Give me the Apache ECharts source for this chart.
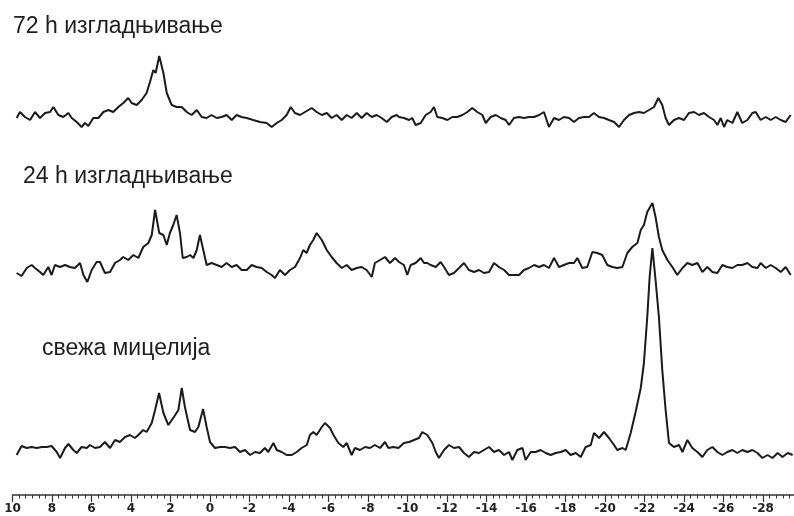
<!DOCTYPE html>
<html>
<head>
<meta charset="utf-8">
<script src="https://cdn.jsdelivr.net/npm/echarts@6/dist/echarts.min.js"></script>
<style>html,body{margin:0;padding:0;background:#fff}#c{width:794px;height:516px}</style>
</head>
<body>
<div id="c"></div>
<script>
// Labels of the three spectra
const traceLabels = ['72 h изгладњивање', '24 h изгладњивање', 'свежа мицелија'];

// Chemical shift axis (ppm), tick every 2 ppm
const axisMin = -30, axisMax = 10, axisStep = 2;

// 72 h starvation: [ppm, intensity]
const starved72h = [
[9.79,0],[9.62,6],[9.37,1],[9.11,-2],[8.86,6],[8.61,0],[8.35,5],[8.10,6],[7.93,11],[7.68,3],[7.43,1],[7.17,5],[7.00,0],[6.75,-4],[6.50,-9],[6.33,-5],[6.16,-8],[5.91,0],[5.65,0],[5.40,6],[5.15,8],[4.90,6],[4.64,11],[4.39,15],[4.14,20],[3.97,15],[3.71,13],[3.46,18],[3.21,25],[3.04,36],[2.87,48],[2.75,45],[2.57,62],[2.36,45],[2.19,25],[1.94,13],[1.69,11],[1.43,11],[1.18,6],[0.93,3],[0.67,8],[0.42,1],[0.17,0],[-0.08,3],[-0.34,0],[-0.59,1],[-0.84,3],[-1.10,-2],[-1.35,3],[-1.60,1],[-1.86,0],[-2.19,-2],[-2.53,-4],[-2.87,-5],[-3.12,-9],[-3.38,-5],[-3.63,-2],[-3.88,3],[-4.09,11],[-4.30,5],[-4.56,3],[-4.81,6],[-5.15,10],[-5.40,6],[-5.66,3],[-5.91,5],[-6.16,0],[-6.41,3],[-6.67,-2],[-6.92,3],[-7.17,0],[-7.43,5],[-7.68,0],[-7.93,5],[-8.19,1],[-8.44,3],[-8.69,0],[-8.95,-4],[-9.20,1],[-9.45,3],
[-9.57,1],[-9.82,0],[-10.08,-2],[-10.24,0],[-10.41,-7],[-10.67,-5],[-10.92,3],[-11.17,6],[-11.34,11],[-11.51,1],[-11.76,0],[-12.02,-2],[-12.27,1],[-12.52,1],[-12.78,3],[-13.03,6],[-13.28,10],[-13.53,6],[-13.79,3],[-13.96,-5],[-14.21,1],[-14.47,3],[-14.72,0],[-14.97,-2],[-15.14,-7],[-15.39,0],[-15.65,1],[-15.90,0],[-16.15,1],[-16.41,1],[-16.66,3],[-16.91,6],[-17.16,-9],[-17.42,0],[-17.67,-2],[-17.92,1],[-18.18,0],[-18.43,-4],[-18.68,0],[-18.94,1],[-19.19,1],[-19.44,5],[-19.70,1],[-19.95,0],[-20.20,-2],[-20.46,-4],[-20.71,-9],[-20.96,-2],[-21.22,3],[-21.47,5],[-21.72,6],[-21.97,5],[-22.23,8],[-22.48,11],[-22.70,20],[-22.90,13],[-23.07,0],[-23.24,-7],[-23.49,-2],[-23.75,0],[-24.00,-2],[-24.25,5],[-24.51,6],[-24.76,3],[-25.01,5],[-25.27,1],[-25.52,-2],[-25.69,-7],[-25.86,0],[-26.03,-9],[-26.19,-2],[-26.45,-5],[-26.70,6],[-26.95,-5],[-27.21,-2],[-27.46,5],[-27.63,6],[-27.88,-2],[-28.14,1],[-28.39,-2],[-28.64,1],[-28.90,-2],[-29.15,-4],[-29.40,3]
];

// 24 h starvation
const starved24h = [
[9.79,-5],[9.54,-8],[9.28,0],[9.03,3],[8.86,0],[8.61,-4],[8.44,-7],[8.19,1],[8.02,-7],[7.85,3],[7.59,1],[7.34,3],[7.09,1],[6.84,0],[6.58,5],[6.41,-7],[6.21,-14],[5.99,-2],[5.74,6],[5.57,6],[5.32,-5],[5.06,-4],[4.81,5],[4.56,8],[4.39,11],[4.14,8],[3.88,13],[3.63,10],[3.38,21],[3.12,25],[2.95,33],[2.78,58],[2.57,35],[2.36,33],[2.19,23],[2.03,35],[1.86,43],[1.69,53],[1.52,35],[1.38,10],[1.18,11],[1.01,13],[0.84,10],[0.67,18],[0.51,33],[0.34,18],[0.17,3],[-0.08,5],[-0.34,3],[-0.59,1],[-0.84,5],[-1.10,1],[-1.35,3],[-1.60,-2],[-1.86,-2],[-2.11,3],[-2.36,1],[-2.62,0],[-2.87,-4],[-3.12,-7],[-3.29,-10],[-3.54,-2],[-3.80,-7],[-4.05,-2],[-4.30,1],[-4.56,10],[-4.72,18],[-4.89,15],[-5.06,23],[-5.23,28],[-5.40,35],[-5.66,28],[-5.91,18],[-6.16,11],[-6.41,5],[-6.67,0],[-6.92,3],[-7.17,-2],[-7.43,0],[-7.68,1],[-7.93,-2],[-8.19,-9],[-8.35,5],[-8.61,8],[-8.86,11],[-9.11,5],[-9.37,10],
[-9.57,6],[-9.82,3],[-9.99,-7],[-10.16,3],[-10.41,5],[-10.67,10],[-10.84,5],[-11.00,5],[-11.17,3],[-11.43,1],[-11.68,6],[-11.85,1],[-12.10,-7],[-12.35,-5],[-12.61,0],[-12.86,5],[-13.11,-2],[-13.37,-4],[-13.62,-2],[-13.87,-5],[-14.13,-4],[-14.38,5],[-14.63,1],[-14.89,-2],[-15.14,-7],[-15.39,-7],[-15.65,-7],[-15.90,-2],[-16.15,0],[-16.41,3],[-16.66,1],[-16.91,3],[-17.16,0],[-17.42,10],[-17.67,1],[-17.92,3],[-18.18,5],[-18.43,5],[-18.60,10],[-18.85,0],[-19.10,1],[-19.36,16],[-19.61,15],[-19.86,13],[-20.12,3],[-20.37,1],[-20.62,0],[-20.88,1],[-21.13,15],[-21.38,21],[-21.64,25],[-21.81,38],[-21.97,43],[-22.14,56],[-22.40,65],[-22.56,51],[-22.73,31],[-22.90,18],[-23.16,8],[-23.41,1],[-23.66,-7],[-23.92,0],[-24.17,5],[-24.42,3],[-24.68,5],[-24.93,-4],[-25.18,1],[-25.44,-4],[-25.69,-5],[-25.94,3],[-26.19,1],[-26.45,0],[-26.70,3],[-26.95,3],[-27.21,5],[-27.46,1],[-27.72,0],[-27.88,5],[-28.14,0],[-28.39,3],[-28.64,0],[-28.90,-4],[-29.15,1],[-29.40,-7]
];

// fresh mycelium
const freshMycelium = [
[9.79,-7],[9.54,2],[9.28,0],[9.03,1],[8.77,0],[8.52,1],[8.27,1],[8.02,2],[7.76,-4],[7.59,-10],[7.34,0],[7.17,4],[6.92,-2],[6.75,-5],[6.50,1],[6.24,0],[6.08,3],[5.82,0],[5.57,1],[5.32,6],[5.06,0],[4.81,8],[4.56,6],[4.30,11],[4.05,13],[3.80,10],[3.63,13],[3.38,18],[3.21,16],[2.95,25],[2.78,38],[2.58,55],[2.36,35],[2.11,23],[1.86,30],[1.60,38],[1.43,60],[1.27,41],[1.01,18],[0.76,16],[0.59,21],[0.35,39],[0.17,21],[0.00,6],[-0.25,0],[-0.51,1],[-0.76,1],[-1.01,0],[-1.27,1],[-1.52,-4],[-1.77,-2],[-2.03,-7],[-2.28,-4],[-2.53,-5],[-2.78,0],[-2.95,-4],[-3.21,5],[-3.38,-2],[-3.63,-4],[-3.88,-7],[-4.14,-7],[-4.39,-4],[-4.64,0],[-4.90,3],[-5.06,13],[-5.23,16],[-5.40,13],[-5.66,21],[-5.82,25],[-6.08,20],[-6.25,13],[-6.50,5],[-6.75,1],[-6.92,5],[-7.17,-7],[-7.34,0],[-7.59,-2],[-7.85,1],[-8.10,0],[-8.35,3],[-8.61,0],[-8.86,6],[-9.03,0],[-9.28,1],[-9.54,0],
[-9.82,5],[-10.08,6],[-10.33,8],[-10.58,10],[-10.75,16],[-11.00,13],[-11.26,5],[-11.43,-4],[-11.59,-10],[-11.85,-2],[-12.10,3],[-12.35,0],[-12.61,1],[-12.86,-5],[-13.11,-9],[-13.37,-4],[-13.62,-5],[-13.87,-2],[-14.13,1],[-14.38,-4],[-14.63,-2],[-14.89,-7],[-15.14,-4],[-15.31,-12],[-15.56,-2],[-15.82,0],[-15.98,-12],[-16.24,-4],[-16.49,-4],[-16.74,-2],[-17.00,-5],[-17.25,-7],[-17.50,-5],[-17.76,-4],[-18.01,-2],[-18.26,-7],[-18.52,-5],[-18.77,-9],[-19.02,1],[-19.28,3],[-19.44,15],[-19.70,10],[-19.95,16],[-20.20,10],[-20.46,3],[-20.62,-2],[-20.88,0],[-21.05,-2],[-21.30,15],[-21.55,36],[-21.81,60],[-21.97,85],[-22.14,131],[-22.26,171],[-22.40,200],[-22.56,168],[-22.73,131],[-22.90,78],[-23.07,38],[-23.24,5],[-23.49,1],[-23.75,3],[-23.92,-4],[-24.17,8],[-24.42,0],[-24.68,-4],[-24.93,-9],[-25.18,-2],[-25.44,1],[-25.69,-4],[-25.94,-7],[-26.19,-4],[-26.45,-2],[-26.70,-5],[-26.95,-2],[-27.21,-4],[-27.46,-2],[-27.72,-5],[-27.97,-10],[-28.23,-7],[-28.48,-10],[-28.74,-5],[-28.99,-9],[-29.25,-5],[-29.50,-7]
];

// vertical stacking offsets of the three spectra (in plot units)
const offsets = [377, 227, 47];
const traces = [starved72h, starved24h, freshMycelium];

const chart = echarts.init(document.getElementById('c'), null, {renderer: 'canvas'});
const lineColor = '#1b1b1b';

const series = traces.map((t, i) => ({
  type: 'line',
  data: t.map(p => [p[0], p[1] + offsets[i]]),
  showSymbol: false,
  symbol: 'none',
  clip: false,
  lineStyle: {color: lineColor, width: 2},
  animation: false
}));

const labelPos = [[13, 27], [23, 177], [42, 349]];

chart.setOption({
  backgroundColor: '#ffffff',
  animation: false,
  grid: {left: 12.5, width: 790, top: 0, height: 495, containLabel: false, outerBoundsMode: 'none'},
  xAxis: {
    type: 'value',
    inverse: true,
    min: axisMin,
    max: axisMax,
    interval: axisStep,
    splitLine: {show: false},
    axisLine: {show: true, onZero: false, lineStyle: {color: '#333', width: 1.5}},
    axisTick: {show: true, length: 7, lineStyle: {color: '#333', width: 1.2}},
    minorTick: {show: true, splitNumber: 6, length: 3.5, lineStyle: {color: '#333', width: 1}},
    axisLabel: {
      show: true, margin: 8, color: '#222',
      fontFamily: 'DejaVu Sans', fontWeight: 'bold', fontSize: 12,
      showMinLabel: false
    }
  },
  yAxis: {
    type: 'value', min: 0, max: 495, show: false,
    splitLine: {show: false}
  },
  series: series,
  graphic: traceLabels.map((s, i) => ({
    type: 'text',
    left: labelPos[i][0],
    top: labelPos[i][1] - 12,
    style: {
      text: s,
      fontFamily: 'Liberation Sans, Arial, sans-serif',
      fontSize: 23,
      fill: '#1e1e1e'
    }
  }))
});
</script>
</body>
</html>
